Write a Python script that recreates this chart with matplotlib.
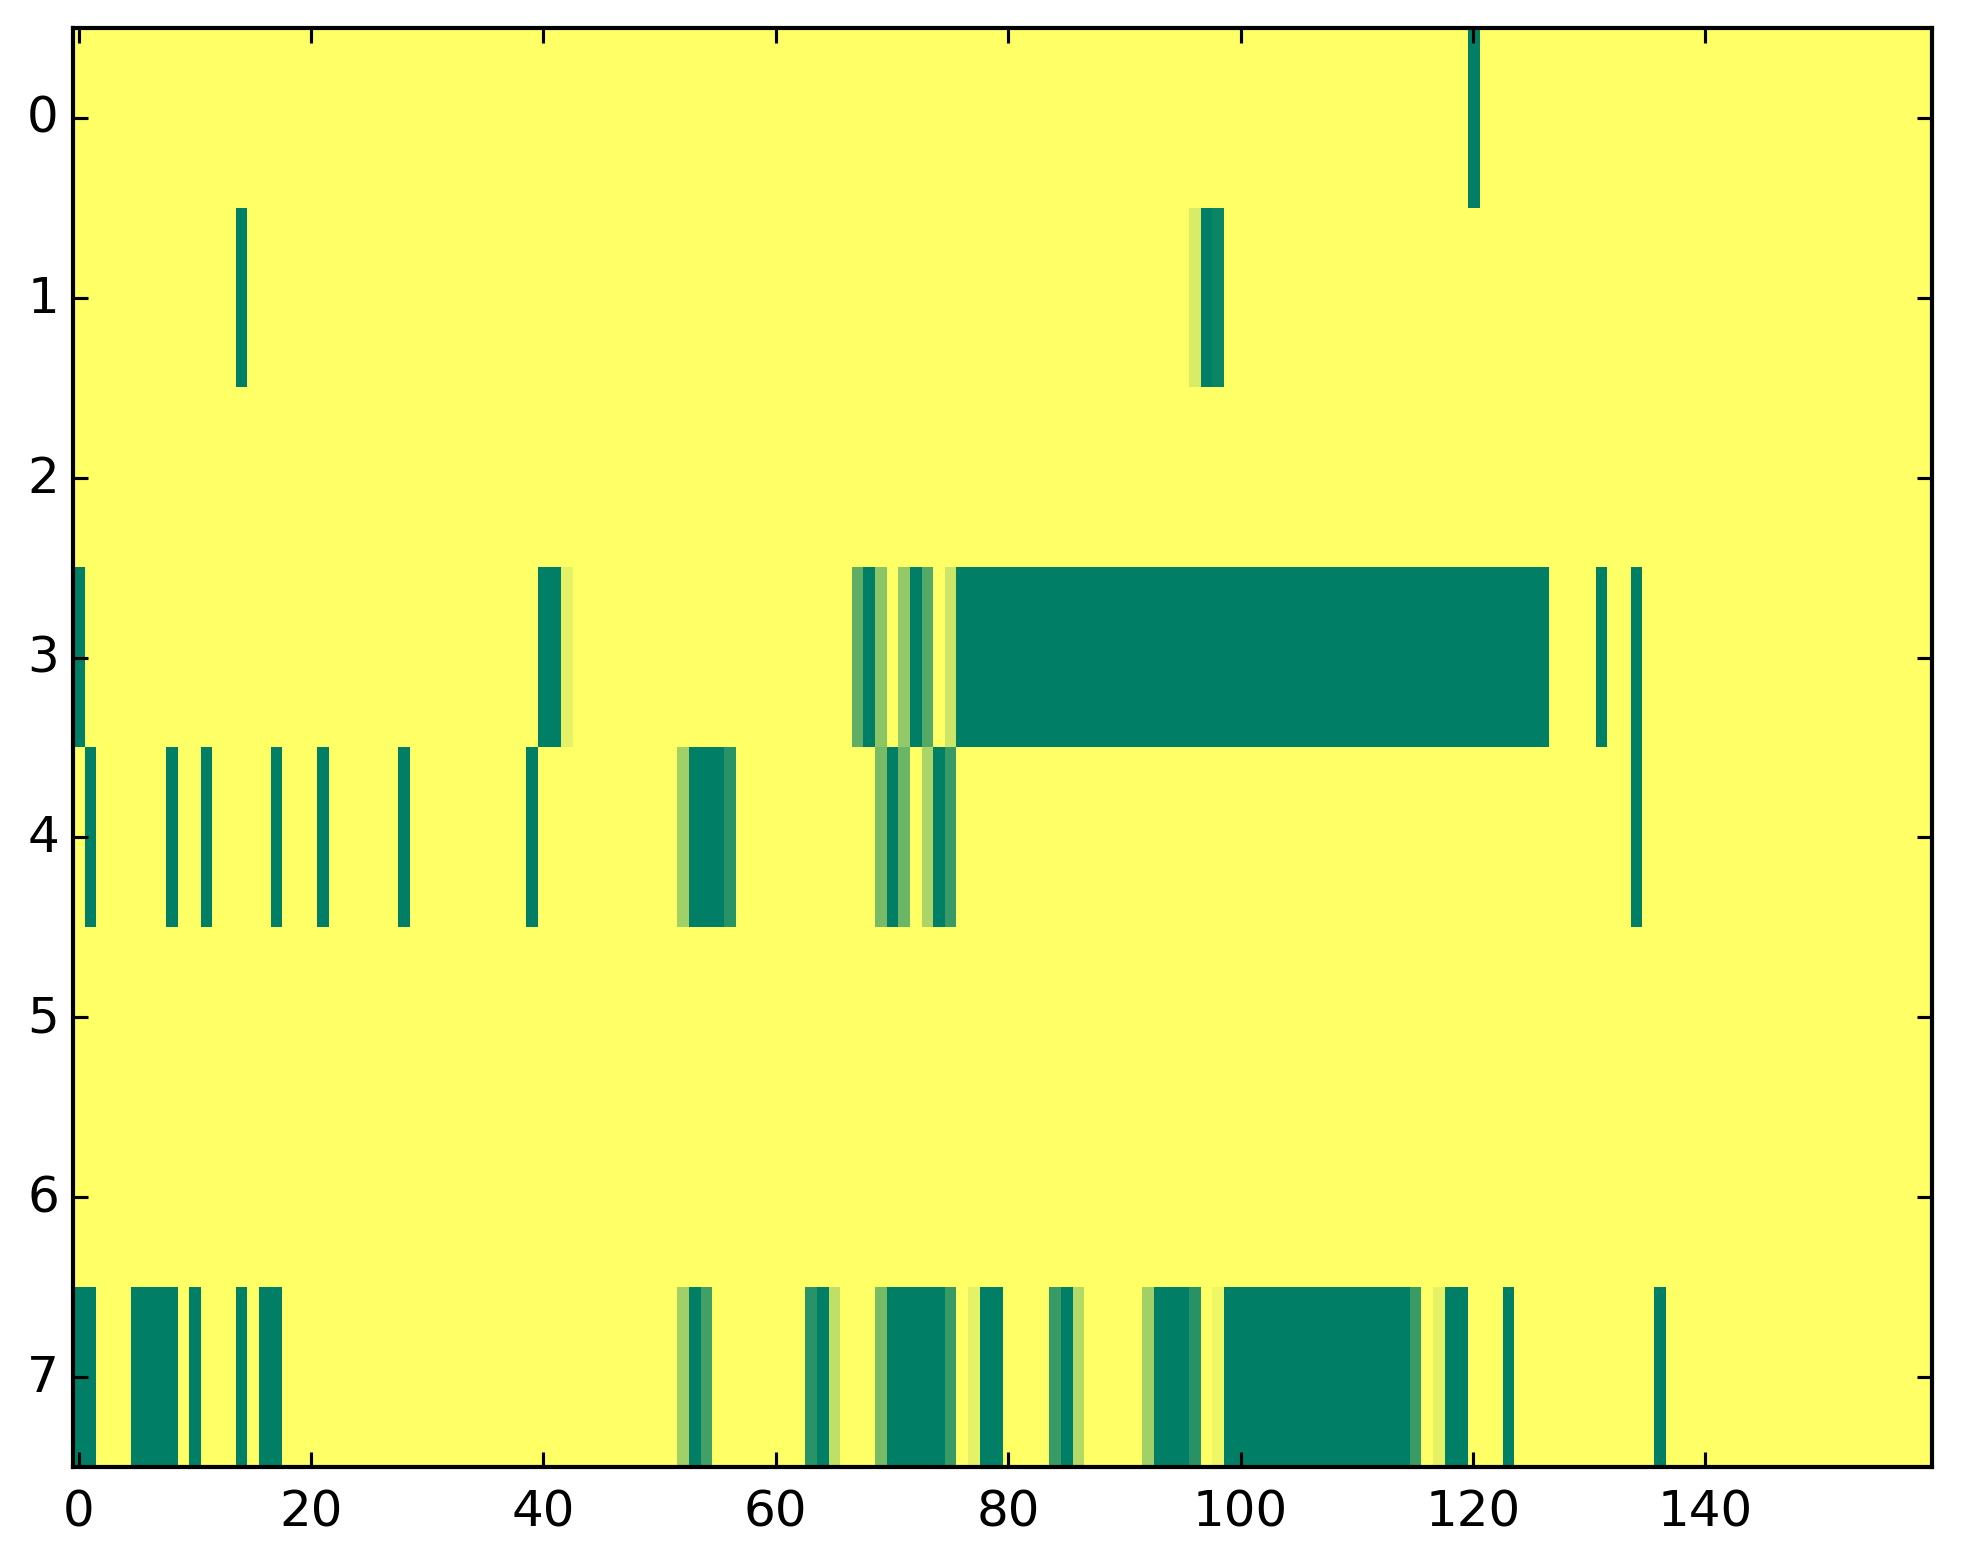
import numpy as np
import matplotlib
matplotlib.use("Agg")
import matplotlib.pyplot as plt

N_ROWS = 8
N_COLS = 160

# runs per row: (first column, last column + 1, value)
row0_runs = [(120, 121, 1.0)]
row1_runs = [(14, 15, 1.0), (96, 97, 0.15), (97, 98, 1.0), (98, 99, 0.95)]
row2_runs = []
row3_runs = [(0, 1, 1.0), (40, 42, 1.0), (42, 43, 0.1),
             (67, 68, 0.63), (68, 69, 1.0), (69, 70, 0.45),
             (71, 72, 0.42), (72, 73, 1.0), (73, 74, 0.67),
             (75, 76, 0.2), (76, 127, 1.0), (131, 132, 1.0), (134, 135, 1.0)]
row4_runs = [(1, 2, 1.0), (8, 9, 1.0), (11, 12, 1.0), (17, 18, 1.0),
             (21, 22, 1.0), (28, 29, 1.0), (39, 40, 1.0),
             (52, 53, 0.37), (53, 56, 1.0), (56, 57, 0.84),
             (69, 70, 0.53), (70, 71, 1.0), (71, 72, 0.58),
             (73, 74, 0.33), (74, 75, 1.0), (75, 76, 0.78), (134, 135, 1.0)]
row5_runs = []
row6_runs = []
row7_runs = [(0, 2, 1.0), (5, 9, 1.0), (10, 11, 1.0), (14, 15, 1.0), (16, 18, 1.0),
             (52, 53, 0.37), (53, 54, 1.0), (54, 55, 0.74),
             (63, 64, 0.84), (64, 65, 1.0), (65, 66, 0.25),
             (69, 70, 0.53), (70, 75, 1.0), (75, 76, 0.78),
             (77, 78, 0.1), (78, 80, 1.0),
             (84, 85, 0.78), (85, 86, 1.0), (86, 87, 0.3),
             (92, 93, 0.37), (93, 96, 1.0), (96, 97, 0.85),
             (98, 99, 0.06), (99, 115, 1.0), (115, 116, 0.78),
             (117, 118, 0.1), (118, 120, 1.0), (123, 124, 1.0), (136, 137, 1.0)]

all_runs = [row0_runs, row1_runs, row2_runs, row3_runs,
            row4_runs, row5_runs, row6_runs, row7_runs]

grid = np.zeros((N_ROWS, N_COLS))
for r, runs in enumerate(all_runs):
    for start, stop, v in runs:
        grid[r, start:stop] = v

plt.style.use("classic")
fig = plt.figure(figsize=(1963 / 300, 1564 / 300), dpi=300)
ax = fig.add_axes([72.7 / 1963, 1 - 1468 / 1564, (1932 - 72.7) / 1963, (1468 - 29) / 1564])
ax.imshow(grid, cmap="summer_r", vmin=0, vmax=1, aspect="auto",
          interpolation="nearest")
ax.set_xlim(-0.5, N_COLS - 0.5)
ax.set_ylim(N_ROWS - 0.5, -0.5)
ax.set_xticks(np.arange(0, 141, 20))
ax.set_yticks(np.arange(0, 8))
ax.tick_params(labelsize=12, width=0.75, length=3.6)
ax.tick_params(axis="x", pad=5)
ax.tick_params(axis="y", pad=3.3)
for s in ax.spines.values():
    s.set_linewidth(1.0)

fig.savefig("out.png", dpi=300)
